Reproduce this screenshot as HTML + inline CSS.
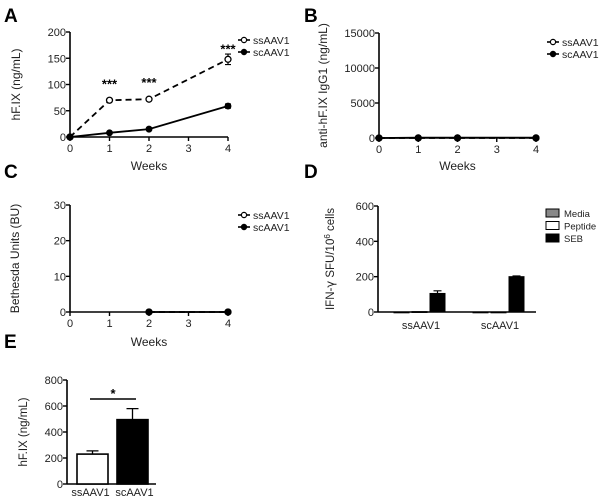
<!DOCTYPE html>
<html><head><meta charset="utf-8"><style>
body{margin:0;background:#fff}
svg{display:block;font-family:"Liberation Sans",Arial,sans-serif}
</style></head><body>
<svg id="fig" width="600" height="499" viewBox="0 0 600 499">
<text x="4" y="22" font-size="19" font-weight="bold">A</text>
<text x="304" y="22" font-size="19" font-weight="bold">B</text>
<text x="4" y="178" font-size="19" font-weight="bold">C</text>
<text x="304" y="178" font-size="19" font-weight="bold">D</text>
<text x="4" y="348" font-size="19" font-weight="bold">E</text>
</svg>
<script>
const weeks=[0,1,2,4];
const aSs=[0,70,72,148], aSsErr=[0,3,2,10];
const aSc=[0,8,15,59], aScErr=[0,1,1,4];
const aTicks=[0,50,100,150,200];
const bSs=[0,0,0,0], bSc=[0,50,50,50];
const bTicks=[0,5000,10000,15000];
const cWeeks=[2,4];
const cSs=[0,0], cSc=[0,0];
const cTicks=[0,10,20,30];
const xTicks=[0,1,2,3,4];
const dCats=['ssAAV1','scAAV1'];
const dMedia=[0,0], dPeptide=[2,0], dSeb=[105,200], dSebErr=[15,4];
const dTicks=[0,200,400,600];
const eCats=['ssAAV1','scAAV1'];
const eVals=[230,495], eErr=[25,85];
const eTicks=[0,200,400,600,800];

const svg=document.getElementById('fig');
const NS='http://www.w3.org/2000/svg';
function mk(tag,at,txt){const e=document.createElementNS(NS,tag);for(const k in at)e.setAttribute(k,at[k]);if(txt!==undefined)e.textContent=txt;svg.appendChild(e);return e;}
function axesY(x0,yTop,yBot,max,ticks,title,name,tx,fs){
  const y=v=>yBot-(v/max)*(yBot-yTop);
  let e=mk('line',{x1:x0,y1:yTop,x2:x0,y2:yBot,stroke:'#000','stroke-width':1.6});
  
  ticks.forEach(t=>{
    let l=mk('line',{x1:x0-4,y1:y(t),x2:x0,y2:y(t),stroke:'#000','stroke-width':1.4});
    
    let s=mk('text',{x:x0-4,y:y(t)+4,'font-size':11,'text-anchor':'end',fill:'#222'},t);
    
  });
  let tt=mk('text',{x:tx,y:(yTop+yBot)/2,'font-size':fs||12,'text-anchor':'middle',transform:`rotate(-90 ${tx} ${(yTop+yBot)/2})`,fill:'#222'});
  tt.innerHTML=title;
  
  return y;
}
function lineChart(name,x0,x1,yTop,yBot,max,ticks,title,tx,wk1,s1,e1,wk2,s2,e2,legX,legY,wx){
  const y=axesY(x0,yTop,yBot,max,ticks,title,name,tx,12);
  const x=v=>x0+v/4*(x1-x0);
  let ax=mk('line',{x1:x0,y1:yBot,x2:x1,y2:yBot,stroke:'#000','stroke-width':1.6});
  
  xTicks.forEach(t=>{
    let l=mk('line',{x1:x(t),y1:yBot,x2:x(t),y2:yBot+4,stroke:'#000','stroke-width':1.4});
    
    let s=mk('text',{x:x(t),y:yBot+15,'font-size':11,'text-anchor':'middle',fill:'#222'},t);
    
  });
  let w=mk('text',{x:(x0+x1)/2,y:wx,'font-size':12,'text-anchor':'middle',fill:'#222'},'Weeks');
  
  [[wk1,s1,e1,true],[wk2,s2,e2,false]].forEach(([wk,s,er,open])=>{
    const pts=wk.map((v,i)=>x(v)+','+y(s[i])).join(' ');
    let p=mk('polyline',{points:pts,fill:'none',stroke:'#000','stroke-width':1.8,'stroke-dasharray':open?'6,4':'none'});
    
    wk.forEach((v,i)=>{
      if(er&&er[i]){let eb=mk('path',{d:`M${x(v)},${y(s[i]-er[i])}V${y(s[i]+er[i])}M${x(v)-3},${y(s[i]+er[i])}h6M${x(v)-3},${y(s[i]-er[i])}h6`,stroke:'#000','stroke-width':1.2,fill:'none'});
        }
      let c=mk('circle',{cx:x(v),cy:y(s[i]),r:open?3:2.8,fill:open?'#fff':'#000',stroke:'#000','stroke-width':1.3});
      
    });
  });
  [['ssAAV1',true],['scAAV1',false]].forEach(([lab,open],i)=>{
    const yy=legY+i*12;
    let l=mk('line',{x1:legX,y1:yy,x2:legX+12,y2:yy,stroke:'#000','stroke-width':1.6});
    
    let c=mk('circle',{cx:legX+6,cy:yy,r:2.6,fill:open?'#fff':'#000',stroke:'#000','stroke-width':1.2});
    
    let t=mk('text',{x:legX+15,y:yy+4,'font-size':10.5,fill:'#222'},lab);
    
  });
  return {x,y};
}
const A=lineChart('panel-a',70,228,32,137,200,aTicks,'hF.IX (ng/mL)',20,weeks,aSs,aSsErr,weeks,aSc,aScErr,238,40,170);
[[1,70],[2,72],[4,148]].forEach(([w,v],i)=>{
  let t=mk('text',{x:A.x(w),y:(i==2?A.y(v)-14:A.y(v)-20)+8,'font-size':13,'font-weight':'bold','text-anchor':'middle'},'***');
  
});
lineChart('panel-b',379,536,33,138,15000,bTicks,'anti-hF.IX IgG1 (ng/mL)',327,weeks,bSs,null,weeks,bSc,null,547,42,170);
lineChart('panel-c',70,228,205,312,30,cTicks,'Bethesda Units (BU)',19,cWeeks,cSs,null,cWeeks,cSc,null,238,215,346);

// Panel D
(function(){
  const x0=378,x1=536,yTop=206,yBot=312;
  const y=axesY(x0,yTop,yBot,600,dTicks,'IFN-<tspan font-family="DejaVu Sans">γ</tspan> SFU/10<tspan baseline-shift="super" font-size="8">6</tspan> cells','panel-d',334,11.5);
  let ax=mk('line',{x1:x0,y1:yBot,x2:x1,y2:yBot,stroke:'#000','stroke-width':1.6});
  
  const groupX=[409,488], bw=15;
  const series=[[dMedia,'#888','media'],[dPeptide,'#fff','peptide'],[dSeb,'#000','seb']];
  dCats.forEach((c,i)=>{
    series.forEach(([vals,col,nm],j)=>{
      const bx=groupX[i]+(j-1)*bw+j*3;
      let r=mk('rect',{x:bx,y:y(vals[i]),width:bw,height:Math.max(0.8,yBot-y(vals[i])),fill:col,stroke:'#000','stroke-width':1});
      
      if(nm=='seb'){let eb=mk('path',{d:`M${bx+bw/2},${y(vals[i])}V${y(vals[i]+dSebErr[i])}M${bx+bw/2-4},${y(vals[i]+dSebErr[i])}h8`,stroke:'#000','stroke-width':1.2});
        }
    });
    let t=mk('text',{x:groupX[i]+12,y:329,'font-size':11,'text-anchor':'middle',fill:'#222'},c);
    
  });
  [['Media','#888'],['Peptide','#fff'],['SEB','#000']].forEach(([lab,col],i)=>{
    const yy=209+i*12.5;
    let r=mk('rect',{x:546,y:yy,width:13,height:8,fill:col,stroke:'#000','stroke-width':1});
    
    let t=mk('text',{x:564,y:yy+8,'font-size':9.5,fill:'#222'},lab);
    
  });
})();

// Panel E
(function(){
  const x0=67,x1=156,yTop=380,yBot=484;
  const y=axesY(x0,yTop,yBot,800,eTicks,'hF.IX (ng/mL)','panel-e',27,11.5);
  let ax=mk('line',{x1:x0,y1:yBot,x2:x1,y2:yBot,stroke:'#000','stroke-width':1.6});
  
  const bx=[77,117],bw=31,cols=['#fff','#000'];
  eCats.forEach((c,i)=>{
    let eb=mk('path',{d:`M${bx[i]+bw/2},${y(eVals[i])}V${y(eVals[i]+eErr[i])}M${bx[i]+bw/2-6},${y(eVals[i]+eErr[i])}h12`,stroke:'#000','stroke-width':1.3});
    
    let r=mk('rect',{x:bx[i],y:y(eVals[i]),width:bw,height:yBot-y(eVals[i]),fill:cols[i],stroke:'#000','stroke-width':1.6});
    
    let t=mk('text',{x:bx[i]+bw/2+(i?2:-2),y:496,'font-size':11,'text-anchor':'middle',fill:'#222'},c);
    
  });
  let l=mk('line',{x1:90,y1:399,x2:136,y2:399,stroke:'#000','stroke-width':1.4});
  
  let s=mk('text',{x:113,y:398,'font-size':13,'font-weight':'bold','text-anchor':'middle'},'*');
  
})();
</script>
</body></html>
